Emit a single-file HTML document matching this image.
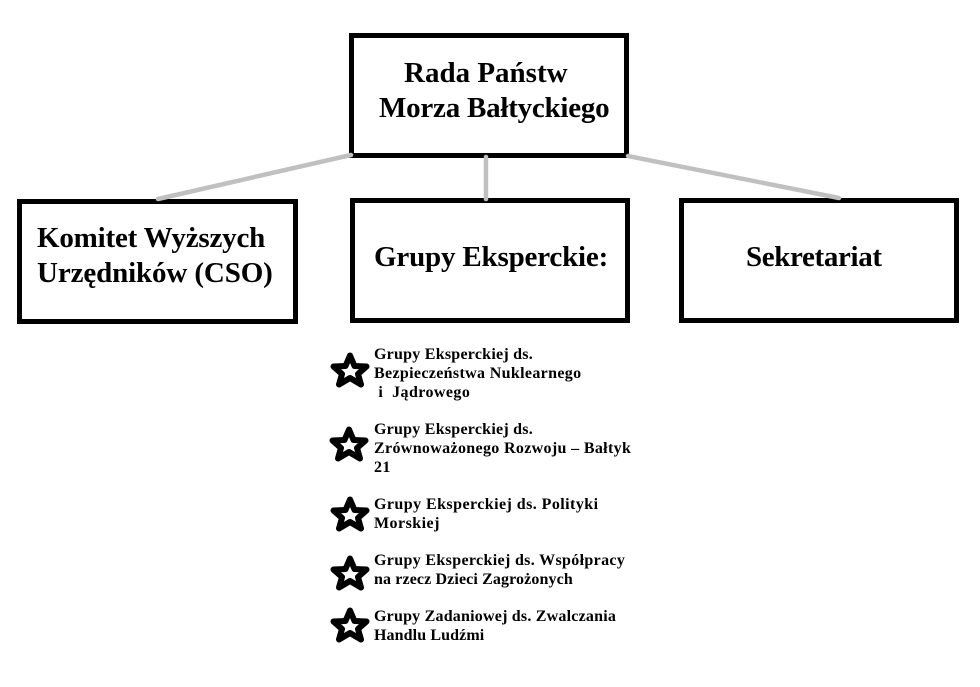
<!DOCTYPE html>
<html><head><meta charset="utf-8">
<style>
html,body{margin:0;padding:0;background:#fff}
#p{position:relative;width:980px;height:687px;overflow:hidden;background:#fff;font-family:"Liberation Serif",serif;font-weight:bold;color:#000}
.b{position:absolute;box-sizing:border-box;border:5px solid #000;background:#fff}
.t{position:absolute;white-space:pre;font-size:29px;line-height:34px}
.s{position:absolute;white-space:pre;font-size:16px;line-height:19px;letter-spacing:.34px}
svg{position:absolute;left:0;top:0}
</style></head><body><div id="p">
<div class="b" style="left:349px;top:33px;width:280px;height:125px"></div>
<div class="b" style="left:17px;top:199px;width:281px;height:125px"></div>
<div class="b" style="left:350px;top:198px;width:280px;height:125px"></div>
<div class="b" style="left:679px;top:198px;width:280px;height:125px"></div>
<svg width="980" height="687">
<g stroke="#c0c0c0" stroke-width="4.5" stroke-linecap="round">
<line x1="351" y1="155" x2="158" y2="199"/>
<line x1="486" y1="157" x2="486" y2="199"/>
<line x1="628" y1="156" x2="839" y2="198"/>
</g>
<g fill="none" stroke="#000" stroke-width="6" stroke-linejoin="round">
<polygon id="st" points="350,355.5 354.5,366 366.5,366.5 358,374 361,384.5 350,378 339,384.5 342,374 333.5,366.5 345.5,366"/>
<use href="#st" x="-1" y="74"/>
<use href="#st" x="0" y="144"/>
<use href="#st" x="0" y="203"/>
<use href="#st" x="0" y="255"/>
</g>
</svg>
<div class="t" style="left:404px;top:56px">Rada Państw</div>
<div class="t" style="left:379px;top:91px;letter-spacing:-.23px">Morza Bałtyckiego</div>
<div class="t" style="left:37px;top:221px;letter-spacing:-.19px">Komitet Wyższych</div>
<div class="t" style="left:37px;top:256px;letter-spacing:-.12px">Urzędników (CSO)</div>
<div class="t" style="left:374px;top:240px;letter-spacing:-.18px">Grupy Eksperckie:</div>
<div class="t" style="left:746px;top:240px;letter-spacing:-.36px">Sekretariat</div>
<div class="s" style="left:374px;top:345px;letter-spacing:.24px">Grupy Eksperckiej ds.</div>
<div class="s" style="left:374px;top:364px">Bezpieczeństwa Nuklearnego</div>
<div class="s" style="left:374px;top:383px;letter-spacing:.42px"> i  Jądrowego</div>
<div class="s" style="left:374px;top:420px;letter-spacing:.24px">Grupy Eksperckiej ds.</div>
<div class="s" style="left:374px;top:439px">Zrównoważonego Rozwoju – Bałtyk</div>
<div class="s" style="left:374px;top:458px">21</div>
<div class="s" style="left:374px;top:495px;letter-spacing:.44px">Grupy Eksperckiej ds. Polityki</div>
<div class="s" style="left:374px;top:514px;letter-spacing:.46px">Morskiej</div>
<div class="s" style="left:374px;top:551px">Grupy Eksperckiej ds. Współpracy</div>
<div class="s" style="left:374px;top:570px;letter-spacing:.12px">na rzecz Dzieci Zagrożonych</div>
<div class="s" style="left:374px;top:607px;letter-spacing:.21px">Grupy Zadaniowej ds. Zwalczania</div>
<div class="s" style="left:374px;top:626px;letter-spacing:.11px">Handlu Ludźmi</div>
</div></body></html>
